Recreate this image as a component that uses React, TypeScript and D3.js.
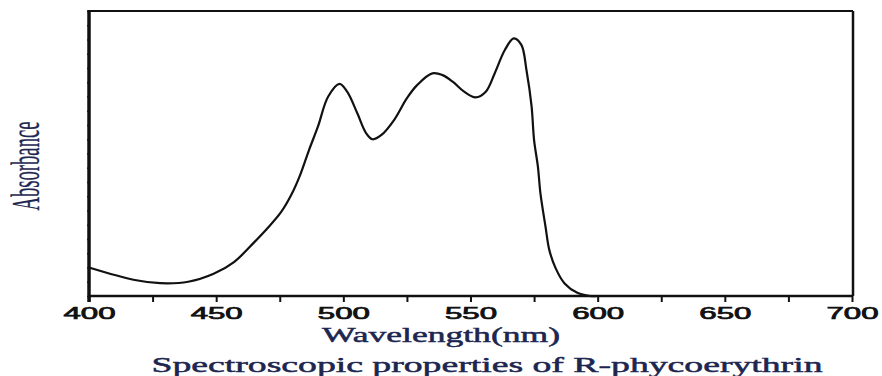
import React, { useEffect, useRef } from 'react';
import * as d3 from 'd3';

// values
const wavelengths = [400, 418, 428, 439, 449, 457, 465, 470, 475.5, 479.5, 483, 486.5, 490, 494, 498.5, 501.5, 505.5, 509, 511.5, 515, 520, 525, 529, 535, 539, 543, 547.5, 552, 556, 559.5, 563.5, 567, 570, 572, 574, 575, 576.5, 577.5, 579.5, 581, 583.5, 587, 592, 597, 600];
const absorbance = [0.10, 0.056, 0.045, 0.05, 0.078, 0.119, 0.189, 0.236, 0.294, 0.354, 0.424, 0.512, 0.594, 0.699, 0.744, 0.717, 0.641, 0.571, 0.55, 0.565, 0.618, 0.694, 0.74, 0.781, 0.775, 0.752, 0.717, 0.697, 0.717, 0.781, 0.863, 0.904, 0.881, 0.793, 0.667, 0.547, 0.454, 0.36, 0.243, 0.161, 0.097, 0.044, 0.011, 0.0, 0.0];
const tickValues = [400, 425, 450, 475, 500, 525, 550, 575, 600, 625, 650, 675, 700];

const xLabel = 'Wavelength(nm)';
const yLabel = 'Absorbance';
const title = 'Spectroscopic properties of R-phycoerythrin';

const App: React.FC = () => {
  const chartRef = useRef<SVGSVGElement | null>(null);

  useEffect(() => {
    const W = 882;
    const H = 376;
    const left = 89, right = 852, top = 11, bottom = 296;
    const textColor = '#1c2650';

    const svg = d3.select(chartRef.current);
    svg.selectAll('*').remove();
    svg.attr('width', W).attr('height', H);

    const x = d3.scaleLinear().domain([400, 700]).range([left, right]);
    const y = d3.scaleLinear().domain([0, 1]).range([bottom, top]);

    // x axis: ticks every 25, labels every 50
    const xAxis = svg.append('g')
      .attr('transform', `translate(0,${bottom})`)
      .call(d3.axisBottom(x)
        .tickValues(tickValues)
        .tickSize(6)
        .tickSizeOuter(0)
        .tickFormat(d => ((d as number) % 50 === 0 ? String(d) : '')));
    xAxis.select('.domain').remove();
    xAxis.selectAll('line').attr('stroke', '#111').attr('stroke-width', 2);
    xAxis.selectAll('text')
      .attr('y', 23)
      .attr('dy', 0)
      .attr('fill', '#111')
      .attr('stroke', '#111')
      .attr('stroke-width', 0.7)
      .style('font-family', '"Liberation Sans", Arial, sans-serif')
      .style('font-size', '16px')
      .each(function () {
        const t = d3.select(this);
        if (t.text() !== '') {
          t.attr('textLength', 52).attr('lengthAdjust', 'spacingAndGlyphs');
        }
      });

    // small ticks on the left border
    const yAxis = svg.append('g')
      .attr('transform', `translate(${left},0)`)
      .call(d3.axisLeft(y).ticks(20).tickSize(2).tickSizeOuter(0).tickFormat(() => ''));
    yAxis.select('.domain').remove();
    yAxis.selectAll('line').attr('stroke', '#333').attr('stroke-width', 1.5);

    // frame
    const frame = svg.append('g').attr('fill', 'none').attr('stroke', '#111');
    frame.append('line').attr('x1', left).attr('x2', left).attr('y1', top - 1).attr('y2', bottom + 6).attr('stroke-width', 3.5);
    frame.append('line').attr('x1', left - 1).attr('x2', right + 1).attr('y1', bottom).attr('y2', bottom).attr('stroke-width', 2.5);
    frame.append('line').attr('x1', left).attr('x2', right + 1).attr('y1', top).attr('y2', top).attr('stroke-width', 2);
    frame.append('line').attr('x1', right + 1).attr('x2', right + 1).attr('y1', top).attr('y2', bottom).attr('stroke-width', 2.5);

    // spectrum
    const points = wavelengths.map((w, i) => [w, absorbance[i]] as [number, number]);
    const line = d3.line<[number, number]>()
      .x(d => x(d[0]))
      .y(d => y(d[1]))
      .curve(d3.curveCatmullRom.alpha(0.5));

    svg.append('path')
      .datum(points)
      .attr('d', line)
      .attr('fill', 'none')
      .attr('stroke', '#111')
      .attr('stroke-width', 2.2)
      .attr('stroke-linejoin', 'round');

    // labels
    const serif = '"Liberation Serif", "Times New Roman", serif';

    svg.append('text')
      .attr('x', 441)
      .attr('y', 342)
      .attr('text-anchor', 'middle')
      .attr('fill', textColor)
      .attr('stroke', textColor)
      .attr('stroke-width', 0.5)
      .attr('textLength', 238)
      .attr('lengthAdjust', 'spacingAndGlyphs')
      .style('font-family', serif)
      .style('font-size', '22px')
      .text(xLabel);

    svg.append('text')
      .attr('transform', 'translate(39,166) rotate(-90)')
      .attr('text-anchor', 'middle')
      .attr('fill', textColor)
      .attr('stroke', textColor)
      .attr('stroke-width', 0.3)
      .attr('textLength', 89)
      .attr('lengthAdjust', 'spacingAndGlyphs')
      .style('font-family', serif)
      .style('font-size', '41px')
      .text(yLabel);

    svg.append('text')
      .attr('x', 487)
      .attr('y', 372)
      .attr('text-anchor', 'middle')
      .attr('fill', textColor)
      .attr('stroke', textColor)
      .attr('stroke-width', 0.5)
      .attr('textLength', 671)
      .attr('lengthAdjust', 'spacingAndGlyphs')
      .style('font-family', serif)
      .style('font-size', '22px')
      .text(title);
  }, []);

  return (
    <svg
      ref={chartRef}
      style={{ position: 'absolute', left: 0, top: 0, background: '#fff' }}
    ></svg>
  );
};

export default App;
